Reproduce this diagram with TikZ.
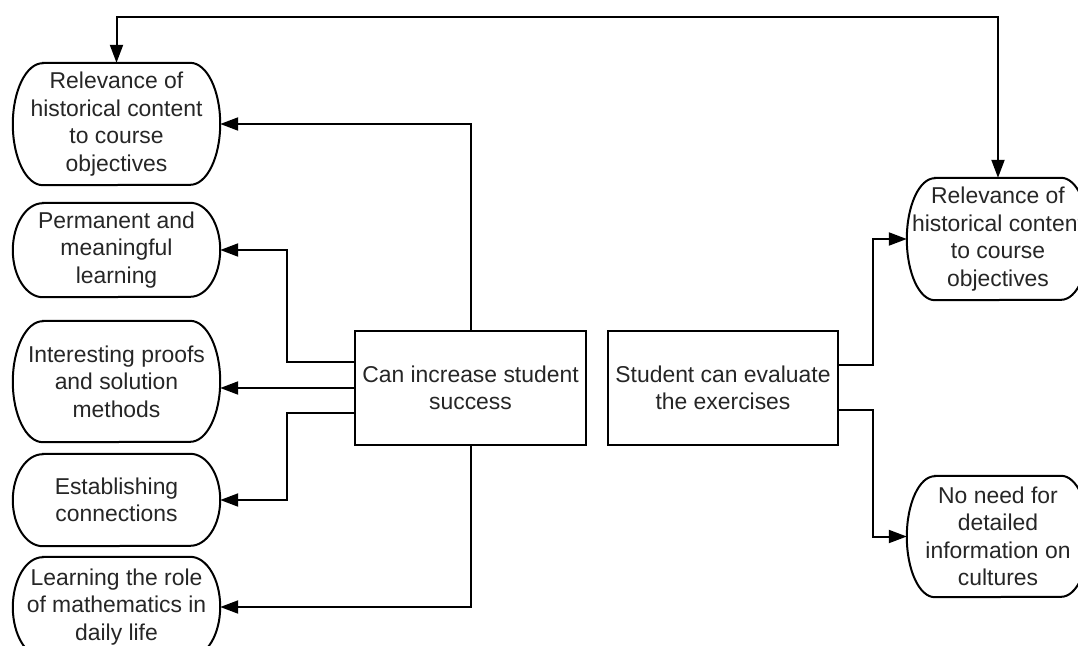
\documentclass[tikz,border=0pt]{standalone}
\usepackage{fontspec}
\setmainfont{Liberation Sans}
\usetikzlibrary{arrows.meta,calc}
\tikzset{
  >={Triangle[length=18pt,width=13pt]},
  lbl/.style={font=\fontsize{22.9}{27.5}\selectfont, text=black!85, align=center, inner sep=0pt},
  pill/.style={lbl, minimum width=207pt},
  rpill/.style={lbl, minimum width=182pt},
  box/.style={lbl, draw, line width=2pt, minimum width=231pt, minimum height=114pt},
  conn/.style={line width=2pt, ->},
  outline/.style={line width=2pt},
}
\newcommand\pillshape[3]{%
  \draw[outline] ([xshift=#2]#1.north west) -- ([xshift=-#2]#1.north east)
    arc[start angle=90,end angle=-90,x radius=#2,y radius=#3]
    -- ([xshift=#2]#1.south west)
    arc[start angle=270,end angle=90,x radius=#2,y radius=#3] -- cycle;}
\begin{document}
\begin{tikzpicture}[x=1pt,y=-1pt]
\clip (0,0) rectangle (1078,645);
\fill[white] (0,0) rectangle (1078,645);
% left pills
\node[pill, minimum height=122pt] (l1) at (116.5,124) {Relevance of\\historical content\\to course\\objectives};
\node[pill, minimum height=94pt] (l2) at (116.5,250) {Permanent and\\meaningful\\learning};
\node[pill, minimum height=121pt] (l3) at (116.5,381.5) {Interesting proofs\\and solution\\methods};
\node[pill, minimum height=92pt] (l4) at (116.5,500) {Establishing\\connections};
\node[pill, minimum height=100pt] (l5) at (116.5,607) {Learning the role\\of mathematics in\\daily life};
\pillshape{l1}{30pt}{61pt}
\pillshape{l2}{30pt}{47pt}
\pillshape{l3}{30pt}{60.5pt}
\pillshape{l4}{30pt}{46pt}
\pillshape{l5}{30pt}{50pt}
% boxes
\node[box] (c) at (470.5,388) {Can increase student\\success};
\node[box, minimum width=230pt] (e) at (723,388) {Student can evaluate\\the exercises};
% right pills
\node[rpill, minimum height=122pt] (r1) at (998,239) {Relevance of\\historical content\\to course\\objectives};
\node[rpill, minimum height=121pt] (r2) at (998,536.5) {No need for\\detailed\\information on\\cultures};
\pillshape{r1}{28pt}{61pt}
\pillshape{r2}{28pt}{60.5pt}
% connectors
\draw[conn, <->] (l1.north) -- ++(0,-46) -| (r1.north);
\draw[conn] (c.north) |- (l1.east);
\draw[conn] ($(c.west)+(0,-26)$) -- ++(-67,0) |- (l2.east);
\draw[conn] (c.west) -- (c.west -| l3.east);
\draw[conn] ($(c.west)+(0,25)$) -- ++(-67,0) |- (l4.east);
\draw[conn] (c.south) |- (l5.east);
\draw[conn] ($(e.east)+(0,-23)$) -- ++(34,0) |- (r1.west);
\draw[conn] ($(e.east)+(0,22)$) -- ++(34,0) |- (r2.west);
\end{tikzpicture}
\end{document}
